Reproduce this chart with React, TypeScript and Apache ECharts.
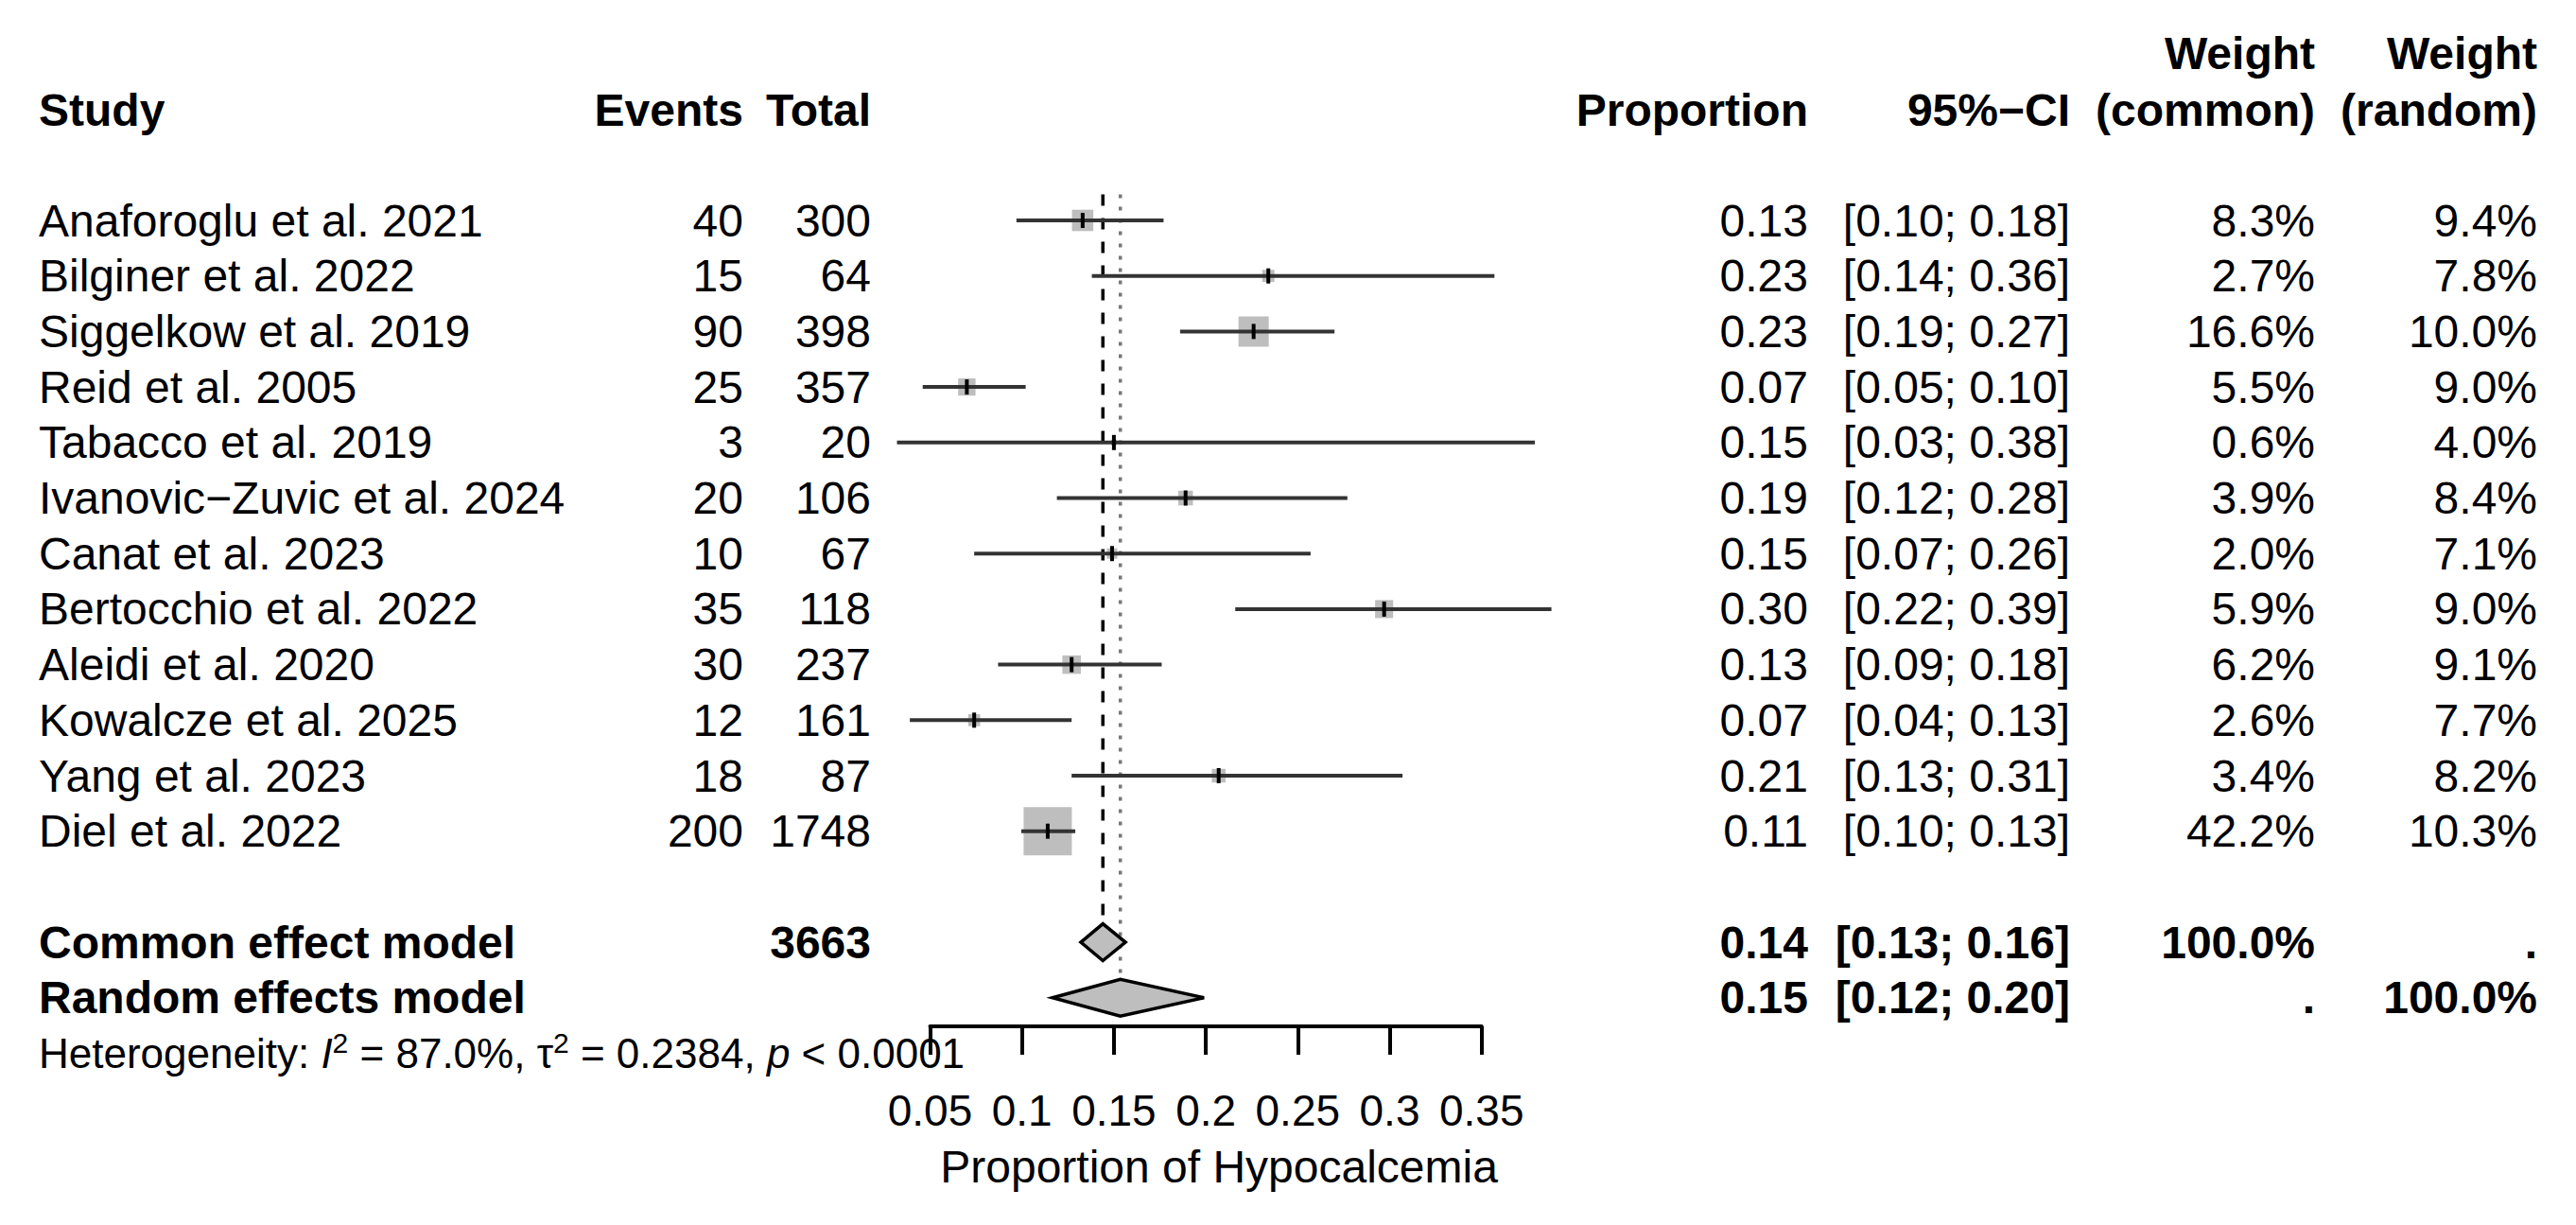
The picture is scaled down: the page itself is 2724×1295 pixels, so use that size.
import React, { useEffect, useRef } from "react";
import * as echarts from "echarts";

// ---------------- data ----------------
const studies = [
  "Anaforoglu et al. 2021",
  "Bilginer et al. 2022",
  "Siggelkow et al. 2019",
  "Reid et al. 2005",
  "Tabacco et al. 2019",
  "Ivanovic\u2212Zuvic et al. 2024",
  "Canat et al. 2023",
  "Bertocchio et al. 2022",
  "Aleidi et al. 2020",
  "Kowalcze et al. 2025",
  "Yang et al. 2023",
  "Diel et al. 2022",
];
const events = [40, 15, 90, 25, 3, 20, 10, 35, 30, 12, 18, 200];
const totals = [300, 64, 398, 357, 20, 106, 67, 118, 237, 161, 87, 1748];
const proportions = [0.133, 0.234, 0.226, 0.07, 0.15, 0.189, 0.149, 0.297, 0.127, 0.074, 0.207, 0.114];
const ciLower = [0.097, 0.138, 0.186, 0.046, 0.032, 0.119, 0.074, 0.216, 0.087, 0.039, 0.127, 0.0996];
const ciUpper = [0.177, 0.357, 0.27, 0.102, 0.379, 0.277, 0.257, 0.388, 0.176, 0.127, 0.307, 0.129];
const weightCommon = [8.3, 2.7, 16.6, 5.5, 0.6, 3.9, 2.0, 5.9, 6.2, 2.6, 3.4, 42.2];
const weightRandom = [9.4, 7.8, 10.0, 9.0, 4.0, 8.4, 7.1, 9.0, 9.1, 7.7, 8.2, 10.3];

const pooledLabels = ["Common effect model", "Random effects model"];
const pooledTotals = ["3663", ""];
const pooledEst = [0.144, 0.1535];
const pooledLower = [0.132, 0.1166];
const pooledUpper = [0.1563, 0.199];
const pooledWeightCommon = ["100.0%", "."];
const pooledWeightRandom = [".", "100.0%"];

const xTicks = [0.05, 0.1, 0.15, 0.2, 0.25, 0.3, 0.35];
const xAxisTitle = "Proportion of Hypocalcemia";
const hetI2 = "87.0%";
const hetTau2 = "0.2384";
const hetP = "0.0001";

// ---------------- layout ----------------
const W = 2724;
const H = 1295;
const FONT = '"Liberation Sans", Arial, Helvetica, sans-serif';
const FS = 48;
const ROW0 = 233;
const ROW_PX = 58.7;
const AXIS_Y = 1085;
const X_LEFT = 983.5;
const X_RIGHT = 1566.7;
const Y_MIN = -1;
const Y_MAX = (AXIS_Y - ROW0) / ROW_PX;
const COL = { study: 41, events: 786, total: 921, prop: 1912, ci: 2189, wc: 2448, wr: 2683 };
const HEADER_ROW = -1.98;
const WEIGHT_ROW = -3.0;
const POOLED_ROW0 = 13;
const HET_ROW = 15.0;
const SQUARE_MAX = 51;
const DIAMOND_H = 19.5;
const REF_TOP_ROW = -0.47;

const fmt2 = (v: number) => v.toFixed(2);
const ciText = (lo: number, hi: number) => `[${fmt2(lo)}; ${fmt2(hi)}]`;
const pct = (v: number) => `${v.toFixed(1)}%`;

function T(x: number, y: number, text: string, align: string, bold = false, size = FS): any {
  return {
    type: "text",
    x,
    y,
    style: {
      text,
      fill: "#000",
      fontSize: size,
      fontFamily: FONT,
      fontWeight: bold ? "bold" : "normal",
      align,
      verticalAlign: "middle",
    },
  };
}

const maxW = Math.max(...weightCommon);

function buildOption(): any {
  const studyData = studies.map((_, i) => [i, proportions[i], ciLower[i], ciUpper[i], weightCommon[i]]);
  const pooledData = pooledEst.map((e, j) => [POOLED_ROW0 + j, e, pooledLower[j], pooledUpper[j]]);
  const refData = pooledEst.map((e, j) => [e, REF_TOP_ROW, POOLED_ROW0 + j, j]);

  const textRows: any[] = [];
  textRows.push([0.2, WEIGHT_ROW, 0, 0]);
  textRows.push([0.2, HEADER_ROW, 1, 0]);
  studies.forEach((_, i) => textRows.push([0.2, i, 2, i]));
  pooledLabels.forEach((_, j) => textRows.push([0.2, POOLED_ROW0 + j, 3, j]));
  textRows.push([0.2, HET_ROW, 4, 0]);

  return {
    animation: false,
    backgroundColor: "#fff",
    grid: { left: X_LEFT, right: W - X_RIGHT, top: ROW0 + Y_MIN * ROW_PX, bottom: H - AXIS_Y, containLabel: false },
    xAxis: {
      type: "value",
      position: "bottom",
      min: xTicks[0],
      max: xTicks[xTicks.length - 1],
      interval: 0.05,
      splitLine: { show: false },
      axisLine: { show: true, onZero: false, lineStyle: { color: "#000", width: 4 } },
      axisTick: { show: true, length: 30, lineStyle: { color: "#000", width: 4 } },
      axisLabel: {
        show: true,
        color: "#000",
        fontSize: 46,
        fontFamily: FONT,
        margin: 66,
        showMinLabel: true,
        showMaxLabel: true,
        formatter: (v: number) => String(+v.toFixed(2)),
      },
      name: xAxisTitle,
      nameLocation: "middle",
      nameGap: 124,
      nameTextStyle: { color: "#000", fontSize: 48, fontFamily: FONT, padding: [0, 0, 0, 28] },
    },
    yAxis: { type: "value", inverse: true, min: Y_MIN, max: Y_MAX, show: false },
    series: [
      {
        type: "custom",
        name: "ref",
        silent: true,
        z: 1,
        data: refData,
        encode: { x: 0, y: [1, 2] },
        renderItem: (params: any, api: any) => {
          const est = api.value(0);
          const top = api.coord([est, api.value(1)]);
          const bot = api.coord([est, api.value(2)]);
          const dashed = api.value(3) === 0;
          return {
            type: "line",
            shape: { x1: top[0], y1: top[1], x2: bot[0], y2: bot[1] - DIAMOND_H },
            style: dashed
              ? { stroke: "#000", lineWidth: 3.5, lineDash: [12, 13] }
              : { stroke: "#777", lineWidth: 3.5, lineDash: [4, 9] },
          };
        },
      },
      {
        type: "custom",
        name: "studies",
        silent: true,
        z: 2,
        data: studyData,
        encode: { x: [1, 2, 3], y: 0 },
        renderItem: (params: any, api: any) => {
          const row = api.value(0);
          const [xe, y] = api.coord([api.value(1), row]);
          const xl = api.coord([api.value(2), row])[0];
          const xh = api.coord([api.value(3), row])[0];
          const s = SQUARE_MAX * Math.sqrt(api.value(4) / maxW);
          return {
            type: "group",
            children: [
              { type: "rect", shape: { x: xe - s / 2, y: y - s / 2, width: s, height: s }, style: { fill: "#bebebe" } },
              { type: "line", shape: { x1: xl, y1: y, x2: xh, y2: y }, style: { stroke: "#333", lineWidth: 4 } },
              { type: "line", shape: { x1: xe, y1: y - 8, x2: xe, y2: y + 8 }, style: { stroke: "#000", lineWidth: 4 } },
            ],
          };
        },
      },
      {
        type: "custom",
        name: "pooled",
        silent: true,
        z: 3,
        data: pooledData,
        encode: { x: [1, 2, 3], y: 0 },
        renderItem: (params: any, api: any) => {
          const row = api.value(0);
          const [xe, y] = api.coord([api.value(1), row]);
          const xl = api.coord([api.value(2), row])[0];
          const xh = api.coord([api.value(3), row])[0];
          return {
            type: "polygon",
            shape: { points: [[xl, y], [xe, y - DIAMOND_H], [xh, y], [xe, y + DIAMOND_H]] },
            style: { fill: "#bebebe", stroke: "#000", lineWidth: 3.5, lineJoin: "miter" },
          };
        },
      },
      {
        type: "custom",
        name: "table",
        silent: true,
        z: 4,
        data: textRows,
        encode: { x: 0, y: 1 },
        renderItem: (params: any, api: any) => {
          const y = api.coord([api.value(0), api.value(1)])[1];
          const kind = api.value(2);
          const i = api.value(3);
          let children: any[] = [];
          if (kind === 0) {
            children = [T(COL.wc, y, "Weight", "right", true), T(COL.wr, y, "Weight", "right", true)];
          } else if (kind === 1) {
            children = [
              T(COL.study, y, "Study", "left", true),
              T(COL.events, y, "Events", "right", true),
              T(COL.total, y, "Total", "right", true),
              T(COL.prop, y, "Proportion", "right", true),
              T(COL.ci, y, "95%\u2212CI", "right", true),
              T(COL.wc, y, "(common)", "right", true),
              T(COL.wr, y, "(random)", "right", true),
            ];
          } else if (kind === 2) {
            children = [
              T(COL.study, y, studies[i], "left"),
              T(COL.events, y, String(events[i]), "right"),
              T(COL.total, y, String(totals[i]), "right"),
              T(COL.prop, y, fmt2(proportions[i]), "right"),
              T(COL.ci, y, ciText(ciLower[i], ciUpper[i]), "right"),
              T(COL.wc, y, pct(weightCommon[i]), "right"),
              T(COL.wr, y, pct(weightRandom[i]), "right"),
            ];
          } else if (kind === 3) {
            children = [
              T(COL.study, y, pooledLabels[i], "left", true),
              T(COL.total, y, pooledTotals[i], "right", true),
              T(COL.prop, y, fmt2(pooledEst[i]), "right", true),
              T(COL.ci, y, ciText(pooledLower[i], pooledUpper[i]), "right", true),
              T(COL.wc, y, pooledWeightCommon[i], "right", true),
              T(COL.wr, y, pooledWeightRandom[i], "right", true),
            ];
          } else {
            children = [
              {
                type: "text",
                x: COL.study,
                y,
                style: {
                  text: `Heterogeneity: {i|I}{sup|2} = ${hetI2}, \u03c4{sup|2} = ${hetTau2}, {i|p} < ${hetP}`,
                  fill: "#000",
                  fontSize: 44,
                  fontFamily: FONT,
                  align: "left",
                  verticalAlign: "middle",
                  lineHeight: 52,
                  rich: {
                    i: { fontStyle: "italic", fontSize: 44, fontFamily: FONT, fill: "#000", lineHeight: 52 },
                    sup: { fontSize: 30, fontFamily: FONT, fill: "#000", lineHeight: 30, verticalAlign: "top" },
                  },
                },
              },
            ];
          }
          return { type: "group", children };
        },
      },
    ],
  };
}

export default function App() {
  const ref = useRef<HTMLDivElement>(null);
  useEffect(() => {
    if (!ref.current) return;
    const chart = echarts.init(ref.current, null, { renderer: "svg" });
    chart.setOption(buildOption());
    return () => chart.dispose();
  }, []);
  return (
    <div
      ref={ref}
      style={{ position: "absolute", left: 0, top: 0, width: W, height: H, background: "#fff" }}
    />
  );
}
